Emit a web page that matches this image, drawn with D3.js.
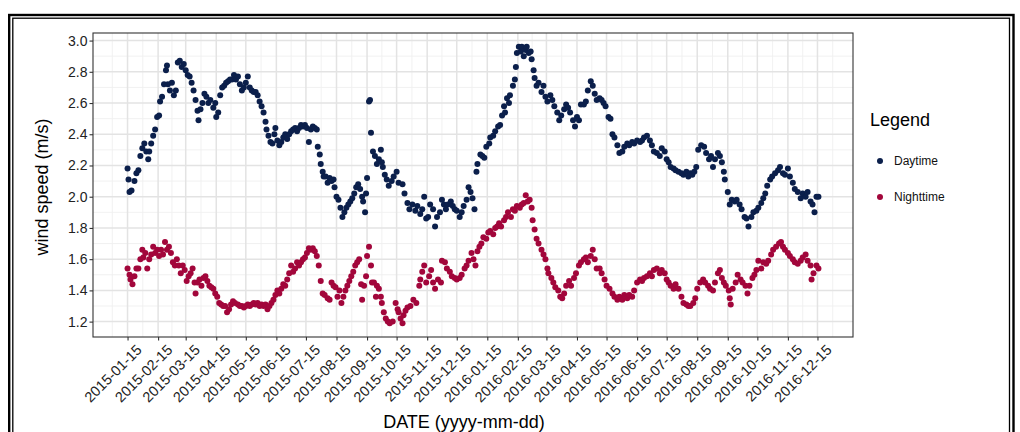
<!DOCTYPE html>
<html>
<head>
<meta charset="utf-8">
<script src="https://cdn.jsdelivr.net/npm/d3@7"></script>
<style>
html, body { margin: 0; padding: 0; background: #fff; }
svg { display: block; font-family: "Liberation Sans", Arial, Helvetica, sans-serif; }
</style>
</head>
<body>
<div id="chart"></div>
<script>
/* day offsets are counted from this date */
const startDate = "2015-01-15";

const tickLabels = ["2015-01-15","2015-02-15","2015-03-15","2015-04-15","2015-05-15","2015-06-15",
    "2015-07-15","2015-08-15","2015-09-15","2015-10-15","2015-11-15","2015-12-15",
    "2016-01-15","2016-02-15","2016-03-15","2016-04-15","2016-05-15","2016-06-15",
    "2016-07-15","2016-08-15","2016-09-15","2016-10-15","2016-11-15","2016-12-15"];

const yTickValues = [1.2, 1.4, 1.6, 1.8, 2.0, 2.2, 2.4, 2.6, 2.8, 3.0];

const seriesNames = ["Daytime", "Nighttime"];

/* [day offset, wind speed] */
const daytime = [[0,2.18],[1,2.11],[2,2.03],[4,2.04],[7,2.10],[9,2.15],[11,2.17],[13,2.26],[15,2.31],[17,2.34],
    [19,2.29],[21,2.24],[22,2.29],[24,2.34],[26,2.39],[28,2.43],[30,2.51],[32,2.52],[33,2.61],[35,2.64],
    [37,2.72],[39,2.81],[40,2.84],[41,2.72],[43,2.68],[45,2.73],[47,2.65],[49,2.68],[51,2.86],[53,2.87],
    [55,2.83],[57,2.85],[59,2.81],[61,2.78],[63,2.77],[65,2.73],[67,2.68],[69,2.62],[71,2.55],[72,2.49],
    [74,2.56],[76,2.60],[78,2.66],[80,2.64],[82,2.60],[84,2.62],[87,2.57],[89,2.60],[90,2.51],[92,2.54],
    [94,2.65],[96,2.70],[98,2.71],[100,2.73],[102,2.74],[104,2.75],[106,2.75],[108,2.78],[110,2.75],[112,2.77],
    [114,2.72],[116,2.68],[118,2.70],[120,2.73],[122,2.77],[124,2.70],[126,2.68],[128,2.67],[130,2.67],[132,2.65],
    [134,2.61],[136,2.58],[138,2.54],[140,2.48],[141,2.43],[143,2.39],[145,2.35],[147,2.34],[149,2.40],[150,2.44],
    [152,2.36],[154,2.33],[156,2.35],[158,2.38],[160,2.40],[162,2.37],[164,2.40],[166,2.42],[168,2.43],[170,2.44],
    [172,2.42],[174,2.44],[176,2.46],[178,2.45],[180,2.46],[182,2.44],[184,2.35],[186,2.43],[188,2.45],[190,2.44],
    [192,2.43],[193,2.32],[195,2.27],[196,2.21],[198,2.16],[199,2.13],[201,2.13],[203,2.09],[205,2.12],[207,2.10],
    [209,2.11],[210,2.06],[212,2.00],[214,1.98],[216,1.93],[218,1.87],[220,1.90],[222,1.93],[224,1.95],[226,1.97],
    [228,1.99],[230,2.02],[232,2.06],[234,2.08],[236,2.05],[238,2.00],[239,1.97],[241,1.90],[242,2.02],[243,2.12],
    [245,2.61],[246,2.62],[247,2.41],[249,2.29],[251,2.26],[253,2.21],[255,2.24],[257,2.30],[258,2.22],[259,2.19],
    [261,2.14],[263,2.11],[265,2.07],[268,2.10],[270,2.13],[273,2.16],[275,2.09],[279,2.08],[281,2.02],[284,1.96],
    [286,1.92],[289,1.95],[292,1.91],[294,1.94],[297,1.89],[299,1.92],[301,2.00],[303,1.86],[305,1.87],[307,1.95],
    [310,1.92],[312,1.81],[314,1.87],[317,1.90],[319,1.98],[321,1.95],[323,1.92],[325,1.95],[328,1.97],[330,1.94],
    [332,1.92],[334,1.91],[337,1.87],[339,1.90],[341,1.94],[344,1.98],[346,2.06],[348,2.03],[350,1.99],[352,1.92],
    [354,2.16],[355,2.21],[358,2.27],[360,2.26],[362,2.25],[364,2.32],[367,2.34],[368,2.38],[371,2.39],[373,2.42],
    [376,2.45],[378,2.46],[380,2.52],[382,2.58],[383,2.54],[385,2.63],[387,2.60],[388,2.65],[391,2.71],[393,2.75],
    [394,2.83],[395,2.92],[397,2.96],[399,2.93],[400,2.96],[402,2.90],[404,2.94],[405,2.96],[407,2.92],[409,2.93],
    [410,2.88],[412,2.81],[413,2.76],[415,2.71],[417,2.73],[420,2.67],[422,2.71],[424,2.64],[426,2.61],[429,2.65],
    [431,2.62],[433,2.58],[436,2.54],[438,2.49],[440,2.52],[443,2.56],[445,2.59],[447,2.57],[449,2.54],[452,2.49],
    [454,2.45],[456,2.51],[458,2.49],[460,2.59],[463,2.59],[465,2.61],[467,2.68],[470,2.74],[472,2.71],[474,2.66],
    [476,2.62],[479,2.63],[481,2.62],[483,2.60],[485,2.58],[488,2.51],[490,2.50],[492,2.40],[494,2.38],[497,2.33],
    [499,2.28],[502,2.29],[504,2.32],[507,2.34],[509,2.33],[512,2.35],[514,2.34],[517,2.36],[520,2.35],[522,2.36],
    [524,2.38],[527,2.39],[530,2.36],[532,2.33],[534,2.29],[537,2.28],[540,2.26],[542,2.31],[545,2.29],[547,2.24],
    [549,2.22],[551,2.19],[554,2.18],[556,2.17],[559,2.16],[562,2.15],[564,2.14],[567,2.16],[569,2.13],[571,2.15],
    [573,2.14],[575,2.16],[577,2.19],[579,2.30],[582,2.33],[585,2.32],[587,2.28],[590,2.24],[592,2.26],[594,2.19],
    [596,2.24],[599,2.28],[601,2.26],[603,2.22],[605,2.16],[606,2.11],[609,2.03],[611,1.95],[613,1.98],[616,1.97],
    [618,1.98],[621,1.95],[623,1.92],[626,1.87],[628,1.86],[630,1.81],[633,1.87],[635,1.90],[638,1.91],[640,1.93],
    [643,1.96],[645,1.99],[647,2.02],[649,2.07],[652,2.11],[654,2.13],[657,2.15],[660,2.17],[662,2.19],[665,2.15],
    [667,2.14],[670,2.18],[672,2.13],[675,2.09],[677,2.05],[680,2.03],[683,1.99],[685,2.02],[688,2.00],[690,2.03],
    [693,1.97],[695,1.95],[697,1.90],[699,2.00],[701,2.00]];

const nighttime = [[0,1.54],[2,1.50],[3,1.47],[5,1.44],[7,1.49],[9,1.54],[11,1.54],[13,1.60],[15,1.66],[16,1.61],
    [18,1.64],[20,1.54],[22,1.60],[24,1.63],[26,1.68],[28,1.64],[30,1.66],[32,1.62],[34,1.66],[36,1.63],
    [38,1.71],[40,1.66],[42,1.68],[44,1.64],[46,1.58],[48,1.56],[50,1.60],[52,1.56],[54,1.51],[56,1.56],
    [58,1.53],[60,1.46],[62,1.49],[64,1.51],[66,1.54],[68,1.45],[69,1.38],[71,1.45],[73,1.47],[75,1.43],
    [77,1.48],[79,1.49],[81,1.46],[83,1.43],[85,1.42],[87,1.41],[89,1.38],[91,1.36],[93,1.32],[95,1.31],
    [97,1.30],[99,1.30],[101,1.26],[103,1.28],[105,1.31],[107,1.33],[109,1.32],[112,1.31],[114,1.30],[116,1.30],
    [118,1.29],[120,1.30],[122,1.31],[124,1.30],[126,1.31],[128,1.32],[130,1.31],[132,1.32],[134,1.30],[136,1.31],
    [138,1.30],[140,1.31],[142,1.28],[144,1.30],[146,1.32],[148,1.34],[150,1.37],[152,1.40],[154,1.38],[156,1.41],
    [158,1.44],[160,1.43],[162,1.47],[164,1.51],[166,1.56],[168,1.52],[170,1.54],[172,1.58],[174,1.56],[176,1.58],
    [178,1.60],[180,1.61],[182,1.64],[184,1.67],[186,1.66],[188,1.67],[190,1.65],[192,1.62],[194,1.56],[196,1.46],
    [198,1.38],[200,1.37],[203,1.35],[205,1.34],[207,1.45],[209,1.43],[211,1.42],[213,1.36],[215,1.40],[217,1.32],
    [219,1.36],[221,1.40],[223,1.43],[225,1.46],[227,1.49],[229,1.52],[231,1.56],[233,1.58],[235,1.60],[237,1.44],
    [238,1.34],[240,1.43],[242,1.49],[243,1.62],[245,1.68],[247,1.56],[248,1.45],[250,1.45],[252,1.36],[253,1.43],
    [255,1.41],[257,1.36],[258,1.32],[260,1.26],[262,1.22],[264,1.20],[266,1.19],[269,1.20],[272,1.32],[274,1.28],
    [275,1.26],[277,1.22],[279,1.19],[280,1.24],[282,1.27],[284,1.29],[287,1.30],[290,1.34],[293,1.32],[296,1.43],
    [297,1.47],[299,1.52],[301,1.56],[303,1.45],[306,1.49],[308,1.53],[310,1.45],[312,1.41],[315,1.47],[318,1.45],
    [319,1.59],[322,1.58],[324,1.54],[327,1.52],[329,1.49],[332,1.48],[334,1.47],[337,1.48],[339,1.50],[342,1.54],
    [344,1.56],[346,1.59],[349,1.64],[351,1.60],[353,1.56],[355,1.65],[357,1.68],[359,1.70],[361,1.74],[364,1.73],
    [366,1.77],[368,1.78],[371,1.76],[373,1.80],[375,1.81],[377,1.83],[379,1.81],[382,1.85],[384,1.87],[386,1.90],
    [389,1.87],[391,1.92],[393,1.91],[395,1.94],[398,1.93],[400,1.95],[402,1.96],[404,2.01],[406,1.97],[408,1.98],
    [410,1.93],[411,1.85],[413,1.79],[415,1.73],[417,1.70],[420,1.66],[422,1.63],[424,1.60],[426,1.54],[427,1.51],
    [430,1.48],[432,1.45],[434,1.42],[437,1.40],[439,1.36],[441,1.35],[443,1.38],[445,1.43],[448,1.46],[450,1.43],
    [453,1.48],[455,1.51],[458,1.56],[460,1.58],[463,1.60],[465,1.61],[467,1.58],[470,1.62],[472,1.66],[474,1.60],
    [476,1.54],[479,1.54],[481,1.51],[484,1.47],[486,1.43],[489,1.41],[492,1.38],[494,1.36],[497,1.34],[499,1.36],
    [502,1.34],[504,1.37],[507,1.35],[509,1.37],[512,1.36],[514,1.40],[517,1.45],[520,1.47],[522,1.46],[524,1.48],
    [527,1.49],[530,1.51],[532,1.49],[534,1.53],[537,1.54],[540,1.51],[542,1.53],[545,1.51],[547,1.47],[549,1.45],
    [551,1.43],[554,1.41],[556,1.44],[559,1.41],[562,1.36],[564,1.32],[567,1.31],[569,1.30],[571,1.30],[574,1.32],
    [576,1.35],[578,1.41],[581,1.45],[584,1.47],[586,1.45],[589,1.43],[591,1.41],[594,1.40],[596,1.45],[599,1.51],
    [601,1.53],[603,1.48],[605,1.45],[607,1.43],[610,1.40],[611,1.35],[612,1.31],[614,1.41],[617,1.45],[619,1.50],
    [622,1.47],[624,1.45],[627,1.43],[629,1.38],[631,1.43],[634,1.48],[636,1.50],[638,1.53],[640,1.59],[643,1.54],
    [645,1.58],[648,1.57],[650,1.59],[653,1.63],[655,1.66],[658,1.68],[661,1.70],[663,1.71],[665,1.68],[667,1.66],
    [670,1.64],[672,1.62],[675,1.60],[677,1.58],[680,1.57],[683,1.59],[685,1.61],[688,1.63],[690,1.59],[693,1.56],
    [694,1.47],[696,1.51],[699,1.56],[701,1.54]];

function WindChart() {

    let self = this;

    self.initialize = function(conf) {

        self.el = document.getElementById(conf.el);
        self.graphWidth = 1020;
        self.graphHeight = 432;
        self.margin = {top: 33, right: 167, bottom: 95, left: 93};
        self.width = self.graphWidth - self.margin.left - self.margin.right;
        self.height = self.graphHeight - self.margin.top - self.margin.bottom;
        self.colors = conf.colors;
        self.radius = conf.radius;

        self.parseTime = d3.utcParse("%Y-%m-%d");
        self.tickFormat = d3.utcFormat("%Y-%m-%d");
        self.start = self.parseTime(startDate);
        self.toDate = function(days) {
            return new Date(self.start.getTime() + days * 864e5);
        };

        self.series = [
            {name: seriesNames[0], values: daytime},
            {name: seriesNames[1], values: nighttime}
        ];
        self.parseData();
    }

    self.parseData = function() {

        let all = daytime.concat(nighttime);

        /*  ggplot style 5% expansion on both scales  */
        let dx = d3.extent(all, d => d[0]);
        let padX = (dx[1] - dx[0]) * 0.05;
        self.xScale = d3.scaleUtc()
                        .domain([self.toDate(dx[0] - padX), self.toDate(dx[1] + padX)])
                        .range([0, self.width]);

        let dy = d3.extent(all, d => d[1]);
        let padY = (dy[1] - dy[0]) * 0.05;
        self.yScale = d3.scaleLinear()
                        .domain([dy[0] - padY, dy[1] + padY])
                        .range([self.height, 0]);

        self.xTicks = tickLabels.map(self.parseTime);
        self.render();
    }

    self.render = function() {
        self.getChartingAreaPane();
        self.renderGrid();
        self.renderPoints();
        self.renderAxes();
        self.renderLegend();
    }

    self.getChartingAreaPane = function() {

        self.root = d3.select(self.el).append("svg")
                        .attr("width", self.graphWidth)
                        .attr("height", self.graphHeight);

        /*  double frame round the picture  */
        self.root.append("rect")
            .attr("x", 9.2).attr("y", 15)
            .attr("width", 1013.5 - 9.2).attr("height", 500)
            .attr("fill", "none").attr("stroke", "#000").attr("stroke-width", 2.4);
        self.root.append("rect")
            .attr("x", 12.8).attr("y", 18.2)
            .attr("width", 1009.5 - 12.8).attr("height", 500)
            .attr("fill", "none").attr("stroke", "#000").attr("stroke-width", 1.3);

        self.svg = self.root.append("g")
                        .attr("transform", "translate(" + self.margin.left + "," + self.margin.top + ")");

        self.svg.append("rect")
            .attr("width", self.width).attr("height", self.height)
            .attr("fill", "#fff");
    }

    self.renderGrid = function() {

        let xd = self.xScale.domain();
        let ext = [d3.utcMonth.offset(self.xTicks[0], -1)].concat(self.xTicks, [d3.utcMonth.offset(self.xTicks[self.xTicks.length - 1], 1)]);
        let xMinor = d3.pairs(ext).map(p => new Date((p[0].getTime() + p[1].getTime()) / 2))
                        .filter(d => d >= xd[0] && d <= xd[1]);

        let yd = self.yScale.domain();
        let yExt = [yTickValues[0] - 0.2].concat(yTickValues, [yTickValues[yTickValues.length - 1] + 0.2]);
        let yMinor = d3.pairs(yExt).map(p => (p[0] + p[1]) / 2)
                        .filter(v => v >= yd[0] && v <= yd[1]);

        let grid = self.svg.append("g").attr("class", "grid");

        grid.selectAll(".xminor").data(xMinor).enter().append("line")
            .attr("x1", d => self.xScale(d)).attr("x2", d => self.xScale(d))
            .attr("y1", 0).attr("y2", self.height)
            .attr("stroke", "#efefef").attr("stroke-width", 0.9);
        grid.selectAll(".yminor").data(yMinor).enter().append("line")
            .attr("y1", d => self.yScale(d)).attr("y2", d => self.yScale(d))
            .attr("x1", 0).attr("x2", self.width)
            .attr("stroke", "#efefef").attr("stroke-width", 0.9);
        grid.selectAll(".xmajor").data(self.xTicks).enter().append("line")
            .attr("x1", d => self.xScale(d)).attr("x2", d => self.xScale(d))
            .attr("y1", 0).attr("y2", self.height)
            .attr("stroke", "#e3e3e3").attr("stroke-width", 1.5);
        grid.selectAll(".ymajor").data(yTickValues).enter().append("line")
            .attr("y1", d => self.yScale(d)).attr("y2", d => self.yScale(d))
            .attr("x1", 0).attr("x2", self.width)
            .attr("stroke", "#e3e3e3").attr("stroke-width", 1.5);
    }

    self.renderPoints = function() {

        self.series.forEach(function(s, i) {
            self.svg.append("g")
                .selectAll("circle")
                .data(s.values)
                .enter().append("circle")
                .attr("cx", d => self.xScale(self.toDate(d[0])))
                .attr("cy", d => self.yScale(d[1]))
                .attr("r", self.radius)
                .attr("fill", self.colors[i]);
        });

        self.svg.append("rect")
            .attr("width", self.width).attr("height", self.height)
            .attr("fill", "none").attr("stroke", "#333").attr("stroke-width", 1.1);
    }

    self.renderAxes = function() {

        let xAxis = self.svg.append("g")
                        .attr("class", "x axis")
                        .attr("transform", "translate(0," + self.height + ")")
                        .call(d3.axisBottom(self.xScale)
                            .tickValues(self.xTicks)
                            .tickFormat(self.tickFormat)
                            .tickSize(3.5));
        xAxis.select(".domain").remove();
        xAxis.selectAll("line").attr("stroke", "#333").attr("stroke-width", 1.1);
        xAxis.selectAll("text")
            .attr("fill", "#222")
            .style("font-size", "14.5px")
            .style("text-anchor", "end")
            .attr("y", 0)
            .attr("dy", "0.71em")
            .attr("transform", "translate(7.5,6.5) rotate(-45)");

        let yAxis = self.svg.append("g")
                        .attr("class", "y axis")
                        .call(d3.axisLeft(self.yScale)
                            .tickValues(yTickValues)
                            .tickFormat(d3.format(".1f"))
                            .tickSize(3.5)
                            .tickPadding(2));
        yAxis.select(".domain").remove();
        yAxis.selectAll("line").attr("stroke", "#333").attr("stroke-width", 1.1);
        yAxis.selectAll("text")
            .attr("fill", "#222")
            .style("font-size", "14px");

        self.root.append("text")
            .attr("transform", "translate(48,187) rotate(-90)")
            .attr("text-anchor", "middle")
            .style("font-size", "18px")
            .attr("fill", "#000")
            .text("wind speed (m/s)");

        self.root.append("text")
            .attr("x", 464).attr("y", 428)
            .attr("text-anchor", "middle")
            .style("font-size", "18px")
            .attr("fill", "#000")
            .text("DATE (yyyy-mm-dd)");
    }

    self.renderLegend = function() {

        let lg = self.root.append("g").attr("class", "legend");

        lg.append("text")
            .attr("x", 870).attr("y", 126)
            .style("font-size", "18px")
            .attr("fill", "#000")
            .text("Legend");

        let item = lg.selectAll(".item")
                        .data(self.series)
                        .enter().append("g")
                        .attr("transform", (d, i) => "translate(880," + (161 + i * 36) + ")");
        item.append("circle")
            .attr("r", self.radius)
            .attr("fill", (d, i) => self.colors[i]);
        item.append("text")
            .attr("x", 14).attr("dy", "0.35em")
            .style("font-size", "12px")
            .attr("fill", "#111")
            .text(d => d.name);
    }
}

let chart = new WindChart();
chart.initialize({el: "chart", colors: ["#0b1f4b", "#a2063b"], radius: 3});
</script>
</body>
</html>
